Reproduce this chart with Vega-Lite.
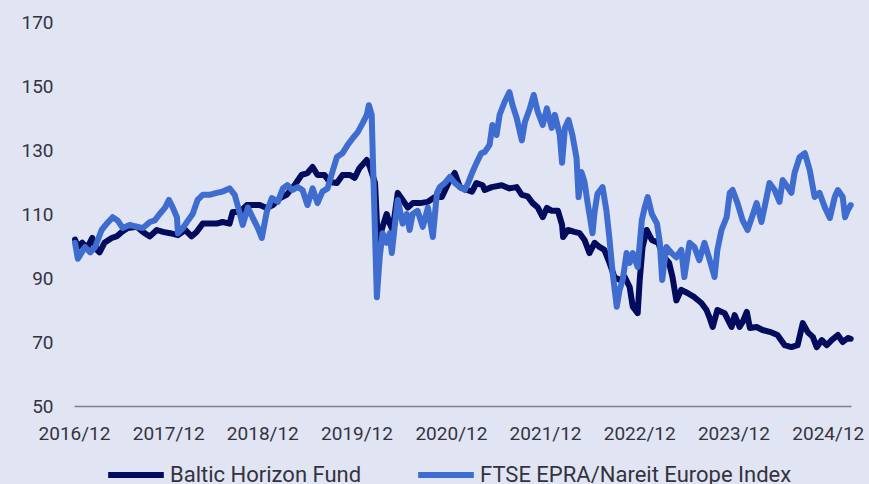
{
  "$schema": "https://vega.github.io/schema/vega-lite/v6.json",
  "width": 777,
  "height": 384,
  "autosize": "none",
  "padding": {"left": 74, "top": 22, "right": 18, "bottom": 78},
  "background": "#e1e4f2",
  "config": {
    "view": {"stroke": null},
    "font": "Roboto",
    "axis": {"labelFont": "Roboto", "labelColor": "#333340", "labelFontSize": 19, "title": null, "grid": false, "ticks": false}
  },
  "datasets": {
    "rows": [
      {"d": "2016-12-05", "s": "Baltic Horizon Fund", "v": 102},
      {"d": "2016-12-16", "s": "Baltic Horizon Fund", "v": 99.7},
      {"d": "2017-01-02", "s": "Baltic Horizon Fund", "v": 101},
      {"d": "2017-01-21", "s": "Baltic Horizon Fund", "v": 99.4},
      {"d": "2017-02-10", "s": "Baltic Horizon Fund", "v": 102.5},
      {"d": "2017-02-28", "s": "Baltic Horizon Fund", "v": 98.8},
      {"d": "2017-03-10", "s": "Baltic Horizon Fund", "v": 98},
      {"d": "2017-03-29", "s": "Baltic Horizon Fund", "v": 101},
      {"d": "2017-04-26", "s": "Baltic Horizon Fund", "v": 102.5},
      {"d": "2017-05-15", "s": "Baltic Horizon Fund", "v": 103},
      {"d": "2017-06-04", "s": "Baltic Horizon Fund", "v": 104.4},
      {"d": "2017-06-27", "s": "Baltic Horizon Fund", "v": 105.6},
      {"d": "2017-08-02", "s": "Baltic Horizon Fund", "v": 106},
      {"d": "2017-08-25", "s": "Baltic Horizon Fund", "v": 104.4},
      {"d": "2017-09-21", "s": "Baltic Horizon Fund", "v": 103},
      {"d": "2017-10-18", "s": "Baltic Horizon Fund", "v": 105},
      {"d": "2017-11-11", "s": "Baltic Horizon Fund", "v": 104.4},
      {"d": "2017-12-08", "s": "Baltic Horizon Fund", "v": 104},
      {"d": "2018-01-08", "s": "Baltic Horizon Fund", "v": 103.4},
      {"d": "2018-02-05", "s": "Baltic Horizon Fund", "v": 105},
      {"d": "2018-03-02", "s": "Baltic Horizon Fund", "v": 103},
      {"d": "2018-03-21", "s": "Baltic Horizon Fund", "v": 104.4},
      {"d": "2018-04-14", "s": "Baltic Horizon Fund", "v": 107},
      {"d": "2018-05-10", "s": "Baltic Horizon Fund", "v": 107},
      {"d": "2018-06-07", "s": "Baltic Horizon Fund", "v": 107},
      {"d": "2018-06-30", "s": "Baltic Horizon Fund", "v": 107.5},
      {"d": "2018-07-27", "s": "Baltic Horizon Fund", "v": 107},
      {"d": "2018-08-08", "s": "Baltic Horizon Fund", "v": 110.6},
      {"d": "2018-09-05", "s": "Baltic Horizon Fund", "v": 110.6},
      {"d": "2018-10-02", "s": "Baltic Horizon Fund", "v": 112.8},
      {"d": "2018-10-25", "s": "Baltic Horizon Fund", "v": 112.8},
      {"d": "2018-11-21", "s": "Baltic Horizon Fund", "v": 112.8},
      {"d": "2018-12-18", "s": "Baltic Horizon Fund", "v": 111.9},
      {"d": "2019-01-11", "s": "Baltic Horizon Fund", "v": 112.8},
      {"d": "2019-02-08", "s": "Baltic Horizon Fund", "v": 115},
      {"d": "2019-03-05", "s": "Baltic Horizon Fund", "v": 116},
      {"d": "2019-04-05", "s": "Baltic Horizon Fund", "v": 119},
      {"d": "2019-05-02", "s": "Baltic Horizon Fund", "v": 122.2},
      {"d": "2019-05-25", "s": "Baltic Horizon Fund", "v": 122.8},
      {"d": "2019-06-14", "s": "Baltic Horizon Fund", "v": 124.7},
      {"d": "2019-07-03", "s": "Baltic Horizon Fund", "v": 122.2},
      {"d": "2019-07-30", "s": "Baltic Horizon Fund", "v": 122.2},
      {"d": "2019-08-19", "s": "Baltic Horizon Fund", "v": 120},
      {"d": "2019-09-16", "s": "Baltic Horizon Fund", "v": 119.7},
      {"d": "2019-10-08", "s": "Baltic Horizon Fund", "v": 122.2},
      {"d": "2019-11-05", "s": "Baltic Horizon Fund", "v": 122.2},
      {"d": "2019-11-24", "s": "Baltic Horizon Fund", "v": 121.3},
      {"d": "2019-12-13", "s": "Baltic Horizon Fund", "v": 124.4},
      {"d": "2020-01-10", "s": "Baltic Horizon Fund", "v": 126.9},
      {"d": "2020-01-22", "s": "Baltic Horizon Fund", "v": 124.7},
      {"d": "2020-02-11", "s": "Baltic Horizon Fund", "v": 119.7},
      {"d": "2020-02-22", "s": "Baltic Horizon Fund", "v": 101},
      {"d": "2020-03-11", "s": "Baltic Horizon Fund", "v": 106},
      {"d": "2020-03-27", "s": "Baltic Horizon Fund", "v": 110},
      {"d": "2020-04-08", "s": "Baltic Horizon Fund", "v": 107},
      {"d": "2020-04-19", "s": "Baltic Horizon Fund", "v": 105},
      {"d": "2020-05-09", "s": "Baltic Horizon Fund", "v": 116.6},
      {"d": "2020-05-28", "s": "Baltic Horizon Fund", "v": 114.4},
      {"d": "2020-06-17", "s": "Baltic Horizon Fund", "v": 112},
      {"d": "2020-07-06", "s": "Baltic Horizon Fund", "v": 113.4},
      {"d": "2020-08-03", "s": "Baltic Horizon Fund", "v": 113.4},
      {"d": "2020-09-03", "s": "Baltic Horizon Fund", "v": 113.8},
      {"d": "2020-09-30", "s": "Baltic Horizon Fund", "v": 115.3},
      {"d": "2020-10-27", "s": "Baltic Horizon Fund", "v": 115.3},
      {"d": "2020-11-27", "s": "Baltic Horizon Fund", "v": 120.6},
      {"d": "2020-12-16", "s": "Baltic Horizon Fund", "v": 122.8},
      {"d": "2021-01-05", "s": "Baltic Horizon Fund", "v": 118.4},
      {"d": "2021-02-02", "s": "Baltic Horizon Fund", "v": 117.5},
      {"d": "2021-02-21", "s": "Baltic Horizon Fund", "v": 117},
      {"d": "2021-03-10", "s": "Baltic Horizon Fund", "v": 119.7},
      {"d": "2021-04-03", "s": "Baltic Horizon Fund", "v": 119},
      {"d": "2021-04-11", "s": "Baltic Horizon Fund", "v": 117.5},
      {"d": "2021-05-08", "s": "Baltic Horizon Fund", "v": 118.4},
      {"d": "2021-06-16", "s": "Baltic Horizon Fund", "v": 119},
      {"d": "2021-07-16", "s": "Baltic Horizon Fund", "v": 118},
      {"d": "2021-08-13", "s": "Baltic Horizon Fund", "v": 118.4},
      {"d": "2021-09-02", "s": "Baltic Horizon Fund", "v": 116},
      {"d": "2021-09-25", "s": "Baltic Horizon Fund", "v": 115.5},
      {"d": "2021-10-14", "s": "Baltic Horizon Fund", "v": 113.4},
      {"d": "2021-11-03", "s": "Baltic Horizon Fund", "v": 112},
      {"d": "2021-11-22", "s": "Baltic Horizon Fund", "v": 109},
      {"d": "2021-12-08", "s": "Baltic Horizon Fund", "v": 111.9},
      {"d": "2021-12-27", "s": "Baltic Horizon Fund", "v": 111},
      {"d": "2022-01-20", "s": "Baltic Horizon Fund", "v": 111},
      {"d": "2022-02-05", "s": "Baltic Horizon Fund", "v": 106.6},
      {"d": "2022-02-09", "s": "Baltic Horizon Fund", "v": 102.8},
      {"d": "2022-02-28", "s": "Baltic Horizon Fund", "v": 105},
      {"d": "2022-03-25", "s": "Baltic Horizon Fund", "v": 104.4},
      {"d": "2022-04-14", "s": "Baltic Horizon Fund", "v": 104},
      {"d": "2022-05-03", "s": "Baltic Horizon Fund", "v": 101.9},
      {"d": "2022-05-22", "s": "Baltic Horizon Fund", "v": 97.8},
      {"d": "2022-06-11", "s": "Baltic Horizon Fund", "v": 101},
      {"d": "2022-06-30", "s": "Baltic Horizon Fund", "v": 99.7},
      {"d": "2022-07-19", "s": "Baltic Horizon Fund", "v": 98.8},
      {"d": "2022-08-08", "s": "Baltic Horizon Fund", "v": 94.7},
      {"d": "2022-08-27", "s": "Baltic Horizon Fund", "v": 90.3},
      {"d": "2022-09-16", "s": "Baltic Horizon Fund", "v": 89.4},
      {"d": "2022-10-06", "s": "Baltic Horizon Fund", "v": 90.3},
      {"d": "2022-10-25", "s": "Baltic Horizon Fund", "v": 87.2},
      {"d": "2022-11-06", "s": "Baltic Horizon Fund", "v": 81},
      {"d": "2022-11-25", "s": "Baltic Horizon Fund", "v": 79},
      {"d": "2022-12-03", "s": "Baltic Horizon Fund", "v": 89.4},
      {"d": "2022-12-14", "s": "Baltic Horizon Fund", "v": 99.7},
      {"d": "2022-12-30", "s": "Baltic Horizon Fund", "v": 105},
      {"d": "2023-01-19", "s": "Baltic Horizon Fund", "v": 101.9},
      {"d": "2023-02-12", "s": "Baltic Horizon Fund", "v": 101},
      {"d": "2023-03-08", "s": "Baltic Horizon Fund", "v": 96.5},
      {"d": "2023-03-27", "s": "Baltic Horizon Fund", "v": 94.7},
      {"d": "2023-04-09", "s": "Baltic Horizon Fund", "v": 90.3},
      {"d": "2023-04-24", "s": "Baltic Horizon Fund", "v": 83},
      {"d": "2023-05-13", "s": "Baltic Horizon Fund", "v": 86.3},
      {"d": "2023-06-06", "s": "Baltic Horizon Fund", "v": 85.3},
      {"d": "2023-07-03", "s": "Baltic Horizon Fund", "v": 84},
      {"d": "2023-07-30", "s": "Baltic Horizon Fund", "v": 82.2},
      {"d": "2023-08-19", "s": "Baltic Horizon Fund", "v": 80},
      {"d": "2023-08-30", "s": "Baltic Horizon Fund", "v": 77.8},
      {"d": "2023-09-12", "s": "Baltic Horizon Fund", "v": 74.7},
      {"d": "2023-09-30", "s": "Baltic Horizon Fund", "v": 80},
      {"d": "2023-10-28", "s": "Baltic Horizon Fund", "v": 79},
      {"d": "2023-11-24", "s": "Baltic Horizon Fund", "v": 74.7},
      {"d": "2023-12-06", "s": "Baltic Horizon Fund", "v": 78.4},
      {"d": "2023-12-25", "s": "Baltic Horizon Fund", "v": 74.7},
      {"d": "2024-01-06", "s": "Baltic Horizon Fund", "v": 76.25},
      {"d": "2024-01-22", "s": "Baltic Horizon Fund", "v": 79.4},
      {"d": "2024-02-03", "s": "Baltic Horizon Fund", "v": 74.4},
      {"d": "2024-02-29", "s": "Baltic Horizon Fund", "v": 74.7},
      {"d": "2024-03-23", "s": "Baltic Horizon Fund", "v": 73.75},
      {"d": "2024-04-27", "s": "Baltic Horizon Fund", "v": 73},
      {"d": "2024-05-20", "s": "Baltic Horizon Fund", "v": 72.2},
      {"d": "2024-06-17", "s": "Baltic Horizon Fund", "v": 69},
      {"d": "2024-07-13", "s": "Baltic Horizon Fund", "v": 68.4},
      {"d": "2024-08-06", "s": "Baltic Horizon Fund", "v": 69},
      {"d": "2024-08-26", "s": "Baltic Horizon Fund", "v": 75.9},
      {"d": "2024-09-15", "s": "Baltic Horizon Fund", "v": 73},
      {"d": "2024-10-04", "s": "Baltic Horizon Fund", "v": 71.6},
      {"d": "2024-10-19", "s": "Baltic Horizon Fund", "v": 68.4},
      {"d": "2024-11-08", "s": "Baltic Horizon Fund", "v": 70.6},
      {"d": "2024-11-27", "s": "Baltic Horizon Fund", "v": 69},
      {"d": "2024-12-16", "s": "Baltic Horizon Fund", "v": 70.6},
      {"d": "2025-01-09", "s": "Baltic Horizon Fund", "v": 72.2},
      {"d": "2025-01-28", "s": "Baltic Horizon Fund", "v": 70},
      {"d": "2025-02-17", "s": "Baltic Horizon Fund", "v": 71.25},
      {"d": "2025-02-28", "s": "Baltic Horizon Fund", "v": 71},
      {"d": "2016-12-05", "s": "FTSE EPRA/Nareit Europe Index", "v": 101},
      {"d": "2016-12-16", "s": "FTSE EPRA/Nareit Europe Index", "v": 96},
      {"d": "2017-01-13", "s": "FTSE EPRA/Nareit Europe Index", "v": 99.7},
      {"d": "2017-02-02", "s": "FTSE EPRA/Nareit Europe Index", "v": 98},
      {"d": "2017-02-21", "s": "FTSE EPRA/Nareit Europe Index", "v": 99.7},
      {"d": "2017-03-18", "s": "FTSE EPRA/Nareit Europe Index", "v": 105},
      {"d": "2017-04-07", "s": "FTSE EPRA/Nareit Europe Index", "v": 107},
      {"d": "2017-04-30", "s": "FTSE EPRA/Nareit Europe Index", "v": 109},
      {"d": "2017-05-19", "s": "FTSE EPRA/Nareit Europe Index", "v": 108},
      {"d": "2017-06-08", "s": "FTSE EPRA/Nareit Europe Index", "v": 105.6},
      {"d": "2017-07-05", "s": "FTSE EPRA/Nareit Europe Index", "v": 106.6},
      {"d": "2017-08-02", "s": "FTSE EPRA/Nareit Europe Index", "v": 106},
      {"d": "2017-08-25", "s": "FTSE EPRA/Nareit Europe Index", "v": 105.6},
      {"d": "2017-09-21", "s": "FTSE EPRA/Nareit Europe Index", "v": 107.5},
      {"d": "2017-10-10", "s": "FTSE EPRA/Nareit Europe Index", "v": 108},
      {"d": "2017-10-29", "s": "FTSE EPRA/Nareit Europe Index", "v": 110},
      {"d": "2017-11-19", "s": "FTSE EPRA/Nareit Europe Index", "v": 112},
      {"d": "2017-12-04", "s": "FTSE EPRA/Nareit Europe Index", "v": 114.4},
      {"d": "2017-12-19", "s": "FTSE EPRA/Nareit Europe Index", "v": 112},
      {"d": "2018-01-04", "s": "FTSE EPRA/Nareit Europe Index", "v": 109},
      {"d": "2018-01-08", "s": "FTSE EPRA/Nareit Europe Index", "v": 104},
      {"d": "2018-01-27", "s": "FTSE EPRA/Nareit Europe Index", "v": 105.6},
      {"d": "2018-02-16", "s": "FTSE EPRA/Nareit Europe Index", "v": 108},
      {"d": "2018-03-06", "s": "FTSE EPRA/Nareit Europe Index", "v": 110},
      {"d": "2018-03-25", "s": "FTSE EPRA/Nareit Europe Index", "v": 114.4},
      {"d": "2018-04-14", "s": "FTSE EPRA/Nareit Europe Index", "v": 116},
      {"d": "2018-05-10", "s": "FTSE EPRA/Nareit Europe Index", "v": 116},
      {"d": "2018-06-07", "s": "FTSE EPRA/Nareit Europe Index", "v": 116.6},
      {"d": "2018-06-30", "s": "FTSE EPRA/Nareit Europe Index", "v": 117},
      {"d": "2018-07-27", "s": "FTSE EPRA/Nareit Europe Index", "v": 118},
      {"d": "2018-08-16", "s": "FTSE EPRA/Nareit Europe Index", "v": 116},
      {"d": "2018-08-27", "s": "FTSE EPRA/Nareit Europe Index", "v": 112.8},
      {"d": "2018-09-16", "s": "FTSE EPRA/Nareit Europe Index", "v": 106.6},
      {"d": "2018-10-06", "s": "FTSE EPRA/Nareit Europe Index", "v": 112},
      {"d": "2018-10-25", "s": "FTSE EPRA/Nareit Europe Index", "v": 108.8},
      {"d": "2018-11-14", "s": "FTSE EPRA/Nareit Europe Index", "v": 105.6},
      {"d": "2018-11-29", "s": "FTSE EPRA/Nareit Europe Index", "v": 102.5},
      {"d": "2018-12-18", "s": "FTSE EPRA/Nareit Europe Index", "v": 110.6},
      {"d": "2019-01-07", "s": "FTSE EPRA/Nareit Europe Index", "v": 115},
      {"d": "2019-01-30", "s": "FTSE EPRA/Nareit Europe Index", "v": 113.8},
      {"d": "2019-02-19", "s": "FTSE EPRA/Nareit Europe Index", "v": 118},
      {"d": "2019-03-08", "s": "FTSE EPRA/Nareit Europe Index", "v": 119},
      {"d": "2019-03-27", "s": "FTSE EPRA/Nareit Europe Index", "v": 117.5},
      {"d": "2019-04-17", "s": "FTSE EPRA/Nareit Europe Index", "v": 118.4},
      {"d": "2019-05-06", "s": "FTSE EPRA/Nareit Europe Index", "v": 117.5},
      {"d": "2019-05-25", "s": "FTSE EPRA/Nareit Europe Index", "v": 112.8},
      {"d": "2019-06-14", "s": "FTSE EPRA/Nareit Europe Index", "v": 118},
      {"d": "2019-07-03", "s": "FTSE EPRA/Nareit Europe Index", "v": 113.4},
      {"d": "2019-07-22", "s": "FTSE EPRA/Nareit Europe Index", "v": 117},
      {"d": "2019-08-11", "s": "FTSE EPRA/Nareit Europe Index", "v": 118},
      {"d": "2019-08-26", "s": "FTSE EPRA/Nareit Europe Index", "v": 122.2},
      {"d": "2019-09-16", "s": "FTSE EPRA/Nareit Europe Index", "v": 127.8},
      {"d": "2019-10-08", "s": "FTSE EPRA/Nareit Europe Index", "v": 129},
      {"d": "2019-10-28", "s": "FTSE EPRA/Nareit Europe Index", "v": 131.6},
      {"d": "2019-11-17", "s": "FTSE EPRA/Nareit Europe Index", "v": 133.75},
      {"d": "2019-12-06", "s": "FTSE EPRA/Nareit Europe Index", "v": 135.6},
      {"d": "2019-12-25", "s": "FTSE EPRA/Nareit Europe Index", "v": 138.4},
      {"d": "2020-01-10", "s": "FTSE EPRA/Nareit Europe Index", "v": 141},
      {"d": "2020-01-18", "s": "FTSE EPRA/Nareit Europe Index", "v": 144},
      {"d": "2020-01-29", "s": "FTSE EPRA/Nareit Europe Index", "v": 141},
      {"d": "2020-02-03", "s": "FTSE EPRA/Nareit Europe Index", "v": 126},
      {"d": "2020-02-18", "s": "FTSE EPRA/Nareit Europe Index", "v": 84},
      {"d": "2020-02-29", "s": "FTSE EPRA/Nareit Europe Index", "v": 96.5},
      {"d": "2020-03-11", "s": "FTSE EPRA/Nareit Europe Index", "v": 104},
      {"d": "2020-03-27", "s": "FTSE EPRA/Nareit Europe Index", "v": 101},
      {"d": "2020-04-08", "s": "FTSE EPRA/Nareit Europe Index", "v": 104},
      {"d": "2020-04-16", "s": "FTSE EPRA/Nareit Europe Index", "v": 97.8},
      {"d": "2020-04-27", "s": "FTSE EPRA/Nareit Europe Index", "v": 106},
      {"d": "2020-05-09", "s": "FTSE EPRA/Nareit Europe Index", "v": 114.4},
      {"d": "2020-05-28", "s": "FTSE EPRA/Nareit Europe Index", "v": 107},
      {"d": "2020-06-13", "s": "FTSE EPRA/Nareit Europe Index", "v": 110},
      {"d": "2020-06-24", "s": "FTSE EPRA/Nareit Europe Index", "v": 105},
      {"d": "2020-07-06", "s": "FTSE EPRA/Nareit Europe Index", "v": 110},
      {"d": "2020-07-25", "s": "FTSE EPRA/Nareit Europe Index", "v": 111},
      {"d": "2020-08-14", "s": "FTSE EPRA/Nareit Europe Index", "v": 106},
      {"d": "2020-09-03", "s": "FTSE EPRA/Nareit Europe Index", "v": 112},
      {"d": "2020-09-22", "s": "FTSE EPRA/Nareit Europe Index", "v": 102.8},
      {"d": "2020-10-08", "s": "FTSE EPRA/Nareit Europe Index", "v": 116.6},
      {"d": "2020-10-19", "s": "FTSE EPRA/Nareit Europe Index", "v": 118.4},
      {"d": "2020-11-08", "s": "FTSE EPRA/Nareit Europe Index", "v": 119.7},
      {"d": "2020-11-27", "s": "FTSE EPRA/Nareit Europe Index", "v": 121.6},
      {"d": "2020-12-16", "s": "FTSE EPRA/Nareit Europe Index", "v": 119.7},
      {"d": "2021-01-05", "s": "FTSE EPRA/Nareit Europe Index", "v": 118.4},
      {"d": "2021-01-24", "s": "FTSE EPRA/Nareit Europe Index", "v": 117.5},
      {"d": "2021-02-06", "s": "FTSE EPRA/Nareit Europe Index", "v": 119.7},
      {"d": "2021-02-21", "s": "FTSE EPRA/Nareit Europe Index", "v": 122.8},
      {"d": "2021-03-10", "s": "FTSE EPRA/Nareit Europe Index", "v": 125.9},
      {"d": "2021-03-29", "s": "FTSE EPRA/Nareit Europe Index", "v": 129},
      {"d": "2021-04-11", "s": "FTSE EPRA/Nareit Europe Index", "v": 129.4},
      {"d": "2021-04-30", "s": "FTSE EPRA/Nareit Europe Index", "v": 131.6},
      {"d": "2021-05-11", "s": "FTSE EPRA/Nareit Europe Index", "v": 137.8},
      {"d": "2021-05-27", "s": "FTSE EPRA/Nareit Europe Index", "v": 134.7},
      {"d": "2021-06-08", "s": "FTSE EPRA/Nareit Europe Index", "v": 141},
      {"d": "2021-06-27", "s": "FTSE EPRA/Nareit Europe Index", "v": 145},
      {"d": "2021-07-16", "s": "FTSE EPRA/Nareit Europe Index", "v": 148.1},
      {"d": "2021-07-28", "s": "FTSE EPRA/Nareit Europe Index", "v": 144},
      {"d": "2021-08-13", "s": "FTSE EPRA/Nareit Europe Index", "v": 140},
      {"d": "2021-09-02", "s": "FTSE EPRA/Nareit Europe Index", "v": 133},
      {"d": "2021-09-14", "s": "FTSE EPRA/Nareit Europe Index", "v": 138.75},
      {"d": "2021-10-03", "s": "FTSE EPRA/Nareit Europe Index", "v": 143},
      {"d": "2021-10-18", "s": "FTSE EPRA/Nareit Europe Index", "v": 147.2},
      {"d": "2021-11-03", "s": "FTSE EPRA/Nareit Europe Index", "v": 141.9},
      {"d": "2021-11-22", "s": "FTSE EPRA/Nareit Europe Index", "v": 137.8},
      {"d": "2021-12-08", "s": "FTSE EPRA/Nareit Europe Index", "v": 143},
      {"d": "2021-12-27", "s": "FTSE EPRA/Nareit Europe Index", "v": 136.9},
      {"d": "2022-01-08", "s": "FTSE EPRA/Nareit Europe Index", "v": 141},
      {"d": "2022-01-27", "s": "FTSE EPRA/Nareit Europe Index", "v": 134.7},
      {"d": "2022-02-05", "s": "FTSE EPRA/Nareit Europe Index", "v": 126},
      {"d": "2022-02-16", "s": "FTSE EPRA/Nareit Europe Index", "v": 136.9},
      {"d": "2022-03-02", "s": "FTSE EPRA/Nareit Europe Index", "v": 139.4},
      {"d": "2022-03-17", "s": "FTSE EPRA/Nareit Europe Index", "v": 134.7},
      {"d": "2022-04-02", "s": "FTSE EPRA/Nareit Europe Index", "v": 127.5},
      {"d": "2022-04-10", "s": "FTSE EPRA/Nareit Europe Index", "v": 115.3},
      {"d": "2022-04-21", "s": "FTSE EPRA/Nareit Europe Index", "v": 123.1},
      {"d": "2022-05-03", "s": "FTSE EPRA/Nareit Europe Index", "v": 120},
      {"d": "2022-05-14", "s": "FTSE EPRA/Nareit Europe Index", "v": 114},
      {"d": "2022-05-22", "s": "FTSE EPRA/Nareit Europe Index", "v": 110},
      {"d": "2022-06-03", "s": "FTSE EPRA/Nareit Europe Index", "v": 104},
      {"d": "2022-06-11", "s": "FTSE EPRA/Nareit Europe Index", "v": 110.6},
      {"d": "2022-06-22", "s": "FTSE EPRA/Nareit Europe Index", "v": 116.3},
      {"d": "2022-07-12", "s": "FTSE EPRA/Nareit Europe Index", "v": 118.4},
      {"d": "2022-07-27", "s": "FTSE EPRA/Nareit Europe Index", "v": 111},
      {"d": "2022-08-08", "s": "FTSE EPRA/Nareit Europe Index", "v": 102},
      {"d": "2022-08-20", "s": "FTSE EPRA/Nareit Europe Index", "v": 91.6},
      {"d": "2022-09-05", "s": "FTSE EPRA/Nareit Europe Index", "v": 81},
      {"d": "2022-09-16", "s": "FTSE EPRA/Nareit Europe Index", "v": 86.3},
      {"d": "2022-09-28", "s": "FTSE EPRA/Nareit Europe Index", "v": 89.4},
      {"d": "2022-10-13", "s": "FTSE EPRA/Nareit Europe Index", "v": 97.8},
      {"d": "2022-10-25", "s": "FTSE EPRA/Nareit Europe Index", "v": 94.7},
      {"d": "2022-11-06", "s": "FTSE EPRA/Nareit Europe Index", "v": 97.8},
      {"d": "2022-11-25", "s": "FTSE EPRA/Nareit Europe Index", "v": 93.4},
      {"d": "2022-12-11", "s": "FTSE EPRA/Nareit Europe Index", "v": 108},
      {"d": "2022-12-22", "s": "FTSE EPRA/Nareit Europe Index", "v": 112},
      {"d": "2023-01-03", "s": "FTSE EPRA/Nareit Europe Index", "v": 115.3},
      {"d": "2023-01-19", "s": "FTSE EPRA/Nareit Europe Index", "v": 110},
      {"d": "2023-02-08", "s": "FTSE EPRA/Nareit Europe Index", "v": 107},
      {"d": "2023-02-19", "s": "FTSE EPRA/Nareit Europe Index", "v": 101},
      {"d": "2023-02-28", "s": "FTSE EPRA/Nareit Europe Index", "v": 89.4},
      {"d": "2023-03-16", "s": "FTSE EPRA/Nareit Europe Index", "v": 99.7},
      {"d": "2023-04-05", "s": "FTSE EPRA/Nareit Europe Index", "v": 97.8},
      {"d": "2023-04-24", "s": "FTSE EPRA/Nareit Europe Index", "v": 96.5},
      {"d": "2023-05-13", "s": "FTSE EPRA/Nareit Europe Index", "v": 98.8},
      {"d": "2023-05-25", "s": "FTSE EPRA/Nareit Europe Index", "v": 90.3},
      {"d": "2023-06-14", "s": "FTSE EPRA/Nareit Europe Index", "v": 101},
      {"d": "2023-07-03", "s": "FTSE EPRA/Nareit Europe Index", "v": 99.7},
      {"d": "2023-07-22", "s": "FTSE EPRA/Nareit Europe Index", "v": 95.6},
      {"d": "2023-08-11", "s": "FTSE EPRA/Nareit Europe Index", "v": 101},
      {"d": "2023-08-30", "s": "FTSE EPRA/Nareit Europe Index", "v": 96},
      {"d": "2023-09-19", "s": "FTSE EPRA/Nareit Europe Index", "v": 90.3},
      {"d": "2023-09-30", "s": "FTSE EPRA/Nareit Europe Index", "v": 98.8},
      {"d": "2023-10-16", "s": "FTSE EPRA/Nareit Europe Index", "v": 105},
      {"d": "2023-11-05", "s": "FTSE EPRA/Nareit Europe Index", "v": 109},
      {"d": "2023-11-17", "s": "FTSE EPRA/Nareit Europe Index", "v": 116.6},
      {"d": "2023-11-28", "s": "FTSE EPRA/Nareit Europe Index", "v": 117.5},
      {"d": "2023-12-17", "s": "FTSE EPRA/Nareit Europe Index", "v": 113.4},
      {"d": "2024-01-06", "s": "FTSE EPRA/Nareit Europe Index", "v": 108},
      {"d": "2024-01-25", "s": "FTSE EPRA/Nareit Europe Index", "v": 105},
      {"d": "2024-02-11", "s": "FTSE EPRA/Nareit Europe Index", "v": 109},
      {"d": "2024-02-29", "s": "FTSE EPRA/Nareit Europe Index", "v": 113.4},
      {"d": "2024-03-19", "s": "FTSE EPRA/Nareit Europe Index", "v": 107.5},
      {"d": "2024-04-08", "s": "FTSE EPRA/Nareit Europe Index", "v": 115.3},
      {"d": "2024-04-19", "s": "FTSE EPRA/Nareit Europe Index", "v": 119.7},
      {"d": "2024-05-09", "s": "FTSE EPRA/Nareit Europe Index", "v": 117.5},
      {"d": "2024-05-28", "s": "FTSE EPRA/Nareit Europe Index", "v": 113.8},
      {"d": "2024-06-09", "s": "FTSE EPRA/Nareit Europe Index", "v": 120.6},
      {"d": "2024-06-28", "s": "FTSE EPRA/Nareit Europe Index", "v": 118.4},
      {"d": "2024-07-13", "s": "FTSE EPRA/Nareit Europe Index", "v": 116.6},
      {"d": "2024-07-25", "s": "FTSE EPRA/Nareit Europe Index", "v": 122.8},
      {"d": "2024-08-14", "s": "FTSE EPRA/Nareit Europe Index", "v": 127.8},
      {"d": "2024-09-03", "s": "FTSE EPRA/Nareit Europe Index", "v": 129},
      {"d": "2024-09-22", "s": "FTSE EPRA/Nareit Europe Index", "v": 123.75},
      {"d": "2024-10-11", "s": "FTSE EPRA/Nareit Europe Index", "v": 115.3},
      {"d": "2024-10-30", "s": "FTSE EPRA/Nareit Europe Index", "v": 116.6},
      {"d": "2024-11-20", "s": "FTSE EPRA/Nareit Europe Index", "v": 112},
      {"d": "2024-12-09", "s": "FTSE EPRA/Nareit Europe Index", "v": 108.75},
      {"d": "2024-12-28", "s": "FTSE EPRA/Nareit Europe Index", "v": 115.3},
      {"d": "2025-01-09", "s": "FTSE EPRA/Nareit Europe Index", "v": 117.5},
      {"d": "2025-01-28", "s": "FTSE EPRA/Nareit Europe Index", "v": 115.3},
      {"d": "2025-02-06", "s": "FTSE EPRA/Nareit Europe Index", "v": 109},
      {"d": "2025-02-17", "s": "FTSE EPRA/Nareit Europe Index", "v": 111.25},
      {"d": "2025-02-28", "s": "FTSE EPRA/Nareit Europe Index", "v": 112.8}
    ]
  },
  "data": {"name": "rows"},
  "mark": {"type": "line", "strokeWidth": 6, "strokeJoin": "round", "strokeCap": "round"},
  "encoding": {
    "x": {
      "field": "d",
      "type": "temporal",
      "scale": {"type": "utc", "domain": [{"year": 2016, "month": 12, "date": 1, "utc": true}, {"year": 2025, "month": 3, "date": 1, "utc": true}]},
      "axis": {
        "values": [
          {"year": 2016, "month": 12, "date": 1, "utc": true},
          {"year": 2017, "month": 12, "date": 1, "utc": true},
          {"year": 2018, "month": 12, "date": 1, "utc": true},
          {"year": 2019, "month": 12, "date": 1, "utc": true},
          {"year": 2020, "month": 12, "date": 1, "utc": true},
          {"year": 2021, "month": 12, "date": 1, "utc": true},
          {"year": 2022, "month": 12, "date": 1, "utc": true},
          {"year": 2023, "month": 12, "date": 1, "utc": true},
          {"year": 2024, "month": 12, "date": 1, "utc": true}
        ],
        "format": "%Y/%m",
        "domain": true,
        "domainColor": "#7c7f8c",
        "domainWidth": 1.5,
        "labelPadding": 18,
        "labelFlush": false,
        "labelOverlap": false
      }
    },
    "y": {
      "field": "v",
      "type": "quantitative",
      "scale": {"domain": [50, 170], "nice": false, "zero": false},
      "axis": {"values": [50, 70, 90, 110, 130, 150, 170], "domain": false, "labelPadding": 21}
    },
    "color": {
      "field": "s",
      "type": "nominal",
      "scale": {"domain": ["Baltic Horizon Fund", "FTSE EPRA/Nareit Europe Index"], "range": ["#020b5c", "#3e6dcf"]},
      "legend": {
        "title": null,
        "orient": "none",
        "legendX": 31,
        "legendY": 422,
        "direction": "horizontal",
        "symbolType": "stroke",
        "symbolSize": 3100,
        "symbolStrokeWidth": 6,
        "labelFontSize": 22,
        "labelColor": "#333340",
        "labelFont": "Roboto",
        "labelOffset": 3,
        "columnPadding": 44,
        "labelLimit": 400
      }
    }
  }
}
